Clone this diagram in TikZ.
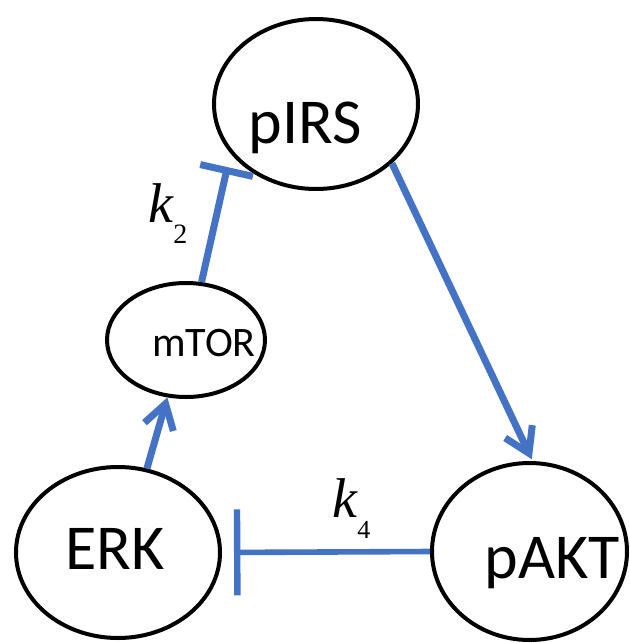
\documentclass[tikz,border=0pt]{standalone}
\usepackage{fontspec}
\setmainfont{Carlito}
\newfontfamily\timesfont{Liberation Serif}
\usetikzlibrary{arrows.meta,shapes.geometric}
\definecolor{linkblue}{RGB}{68,114,196}

\begin{document}
\begin{tikzpicture}[x=0.5pt, y=-0.5pt,
        species/.style={draw, ellipse, line width=2pt, inner sep=0pt},
        bigname/.style={font=\fontsize{32}{32}\selectfont},
        activate/.style={draw=linkblue, line width=3.5pt, -{Straight Barb[length=12pt, width=15pt]}},
        inhibit/.style={draw=linkblue, line width=3.5pt},
        rate/.style={anchor=base west, inner sep=0pt, font=\timesfont\itshape\fontsize{28}{28}\selectfont}]

    \useasboundingbox (0, 0) rectangle (629, 643);

    % Species
    \node[species, minimum width=102pt, minimum height=85pt,
        label={[bigname, xshift=-5.5pt, yshift=-12pt]center:pIRS}] (pIRS) at (316, 104) {};
    \node[species, minimum width=79pt, minimum height=57pt,
        label={[font=\fontsize{21}{21}\selectfont, xshift=9pt, yshift=-1.5pt]center:mTOR}] (mTOR) at (186, 340) {};
    \node[species, minimum width=102pt, minimum height=85.5pt,
        label={[bigname, xshift=-1.5pt, yshift=2pt]center:ERK}] (ERK) at (118, 552.5) {};
    \node[species, minimum width=97.5pt, minimum height=88.5pt,
        label={[bigname, xshift=11.5pt, yshift=-6pt]center:pAKT}] (pAKT) at (529.5, 551.5) {};

    % Connect Nodes
    \draw[activate, shorten >=1pt] (pIRS.322) -- (pAKT.88);
    \draw[activate] (ERK.71) -- (mTOR.252);
    \draw[inhibit, -{Bar[width=27pt]}, shorten >=7pt] (mTOR.75) -- (pIRS.210);
    \draw[inhibit, line width=2.8pt, -{Bar[width=43pt, line width=3.2pt]}, shorten >=6pt] (pAKT.west) -- (ERK.east);

    % Rates
    \node[rate] (k2) at (148, 222) {k\raisebox{-10.5pt}{\upshape\fontsize{14}{14}\selectfont 2}};
    \node[rate] (k4) at (332, 517) {k\raisebox{-10.5pt}{\upshape\fontsize{13}{13}\selectfont 4}};
\end{tikzpicture}
\end{document}
